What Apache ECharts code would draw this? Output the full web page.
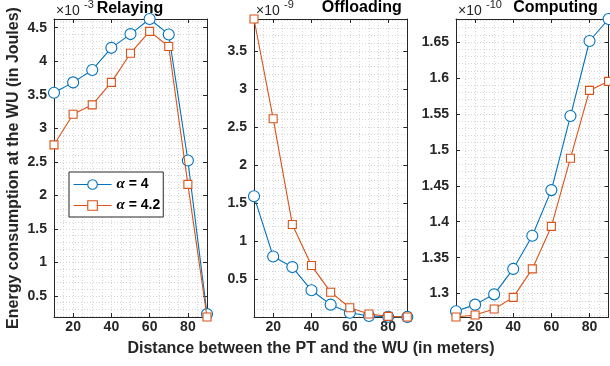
<!DOCTYPE html>
<html>
<head>
<meta charset="utf-8">
<script src="https://cdn.jsdelivr.net/npm/echarts@6/dist/echarts.min.js"></script>
<style>
  html, body { margin: 0; padding: 0; background: #fff; }
  #chart { width: 610px; height: 366px; }
</style>
</head>
<body>
<div id="chart"></div>
<script>
// Distance between the PT and the WU (meters)
const distances = [10, 20, 30, 40, 50, 60, 70, 80, 90];
const seriesNames = ['α = 4', 'α = 4.2'];

// Relaying energy (×10^-3 J)
const relayAlpha4  = [3.53, 3.685, 3.87, 4.20, 4.405, 4.63, 4.40, 2.52, 0.23];
const relayAlpha42 = [2.754, 3.21, 3.35, 3.685, 4.12, 4.446, 4.22, 2.164, 0.187];

// Offloading energy (×10^-9 J)
const offloadAlpha4  = [1.59, 0.80, 0.66, 0.355, 0.166, 0.06, 0.017, 0.008, 0.005];
const offloadAlpha42 = [3.92, 2.61, 1.22, 0.68, 0.33, 0.126, 0.043, 0.012, 0.004];

// Computing energy (×10^-10 J)
const computeAlpha4  = [1.2754, 1.2847, 1.299, 1.3344, 1.3806, 1.444, 1.547, 1.6514, 1.682];
const computeAlpha42 = [1.2675, 1.2703, 1.2786, 1.2948, 1.3344, 1.3935, 1.4884, 1.5827, 1.5953];

const panelTitles = ['Relaying', 'Offloading', 'Computing'];
const exponentLabels = ['-3', '-9', '-10'];
const xTickStep = 20, xMinorStep = 5;
const yTickSteps = [0.5, 0.5, 0.05];
const yMinorSteps = [0.1, 0.1, 0.01];

const panelData = [
  [relayAlpha4, relayAlpha42],
  [offloadAlpha4, offloadAlpha42],
  [computeAlpha4, computeAlpha42]
];

const FONT = "'Liberation Sans', Arial, Helvetica, sans-serif";
const INK = '#262626';
const GRID_DOT = '#d6d6d6';
const colors = ['#0072BD', '#D95319'];
const symbols = ['circle', 'rect'];
const symbolSizes = [11, 8];

const gridBoxes = [
  { left: 54,  width: 153 },
  { left: 254, width: 153.3 },
  { left: 456, width: 152.6 }
];
const gridTop = 19, gridHeight = 298;

const grids = [], xAxes = [], yAxes = [], series = [], graphics = [];

const xMin = Math.min(...distances), xMax = Math.max(...distances);

gridBoxes.forEach((box, p) => {
  grids.push({ left: box.left, top: gridTop, width: box.width, height: gridHeight, containLabel: false });

  const vals = panelData[p][0].concat(panelData[p][1]);
  const yMin = Math.min(...vals), yMax = Math.max(...vals);
  const ySpan = yMax - yMin;

  const tickLabel = {
    show: true, showMinLabel: false, showMaxLabel: false,
    color: INK, fontSize: 14, fontWeight: 'bold', fontFamily: FONT
  };
  const tick = { show: true, inside: true, length: 4, lineStyle: { color: INK, width: 1 } };
  const line = { show: true, onZero: false, lineStyle: { color: INK, width: 1 } };
  const hidden = { axisLine: { show: false, onZero: false }, axisTick: { show: false }, axisLabel: { show: false } };

  // x: bottom labelled axis, top mirror, dotted grid
  xAxes.push({
    type: 'value', gridIndex: p, position: 'bottom', min: xMin, max: xMax,
    splitNumber: Math.round((xMax - xMin) / xTickStep),
    axisLine: line, axisTick: tick, axisLabel: Object.assign({ margin: 3 }, tickLabel),
    splitLine: { show: false }
  });
  xAxes.push({
    type: 'value', gridIndex: p, position: 'top', min: xMin, max: xMax,
    splitNumber: Math.round((xMax - xMin) / xTickStep),
    axisLine: line, axisTick: tick, axisLabel: { show: false }, splitLine: { show: false }
  });
  xAxes.push(Object.assign({
    type: 'value', gridIndex: p, position: 'bottom', min: xMin, max: xMax,
    splitNumber: Math.round((xMax - xMin) / xMinorStep),
    splitLine: { show: true, lineStyle: { color: GRID_DOT, width: 1, type: [1, 2] } }
  }, hidden));

  // y: left labelled axis, right mirror, dotted grid
  yAxes.push({
    type: 'value', gridIndex: p, position: 'left', min: yMin, max: yMax,
    splitNumber: Math.round(ySpan / yTickSteps[p]),
    axisLine: line, axisTick: tick, axisLabel: Object.assign({ margin: 7 }, tickLabel),
    splitLine: { show: false }
  });
  yAxes.push({
    type: 'value', gridIndex: p, position: 'right', min: yMin, max: yMax,
    splitNumber: Math.round(ySpan / yTickSteps[p]),
    axisLine: line, axisTick: tick, axisLabel: { show: false }, splitLine: { show: false }
  });
  yAxes.push(Object.assign({
    type: 'value', gridIndex: p, position: 'left', min: yMin, max: yMax,
    splitNumber: Math.round(ySpan / yMinorSteps[p]),
    splitLine: { show: true, lineStyle: { color: GRID_DOT, width: 1, type: [1, 2] } }
  }, hidden));

  panelData[p].forEach((values, s) => {
    series.push({
      type: 'line', name: seriesNames[s],
      xAxisIndex: 3 * p, yAxisIndex: 3 * p,
      data: distances.map((d, i) => [d, values[i]]),
      symbol: symbols[s], symbolSize: symbolSizes[s], showSymbol: true,
      clip: false, color: colors[s],
      lineStyle: { color: colors[s], width: 1.1 },
      itemStyle: { color: '#fff', borderColor: colors[s], borderWidth: 1.1 },
      emphasis: { disabled: true },
      z: 3 + s
    });
  });

  // exponent marker above each y axis
  graphics.push({
    type: 'text', x: box.left + 2, y: 11.5,
    style: { text: '×10', fill: INK, fontSize: 14, fontFamily: FONT, align: 'left', verticalAlign: 'middle' }
  });
  graphics.push({
    type: 'text', x: box.left + 30, y: 4.5,
    style: { text: exponentLabels[p], fill: INK, fontSize: 11, fontFamily: FONT, align: 'left', verticalAlign: 'middle' }
  });
});

// panel titles
const titleCenters = [130, 361.7, 555.5];
const titleMiddles = [9, 7.3, 7.3];
panelTitles.forEach((t, p) => {
  graphics.push({
    type: 'text', x: titleCenters[p], y: titleMiddles[p],
    style: { text: t, fill: '#000', fontSize: 16, fontWeight: 'bold', fontFamily: FONT, align: 'center', verticalAlign: 'middle' }
  });
});

// shared axis names
graphics.push({
  type: 'text', x: 14, y: 168, rotation: Math.PI / 2,
  style: { text: 'Energy consumption at the WU (in Joules)', fill: INK, fontSize: 16, fontWeight: 'bold', fontFamily: FONT, align: 'center', verticalAlign: 'middle' }
});
graphics.push({
  type: 'text', x: 311, y: 349,
  style: { text: 'Distance between the PT and the WU (in meters)', fill: INK, fontSize: 16, fontWeight: 'bold', fontFamily: FONT, align: 'center', verticalAlign: 'middle' }
});

const chart = echarts.init(document.getElementById('chart'), null, { renderer: 'canvas' });
chart.setOption({
  animation: false,
  backgroundColor: '#fff',
  grid: grids,
  xAxis: xAxes,
  yAxis: yAxes,
  series: series,
  legend: {
    show: true, orient: 'vertical', left: 69, top: 172,
    data: seriesNames, selectedMode: false,
    itemWidth: 38, itemHeight: 12, itemGap: 6,
    padding: [5, 3, 4, 4],
    backgroundColor: '#fff', borderColor: INK, borderWidth: 1, borderRadius: 0,
    itemStyle: { borderWidth: 1.1 },
    lineStyle: { width: 1.1 },
    formatter: name => name.replace('α', '{a|α}'),
    textStyle: {
      color: '#000', fontSize: 14, fontWeight: 'bold', fontFamily: FONT,
      rich: { a: { fontStyle: 'italic', fontWeight: 'bold', fontSize: 15, fontFamily: "'Liberation Serif', 'DejaVu Serif', serif", color: '#000' } }
    }
  },
  graphic: graphics
});
</script>
</body>
</html>
